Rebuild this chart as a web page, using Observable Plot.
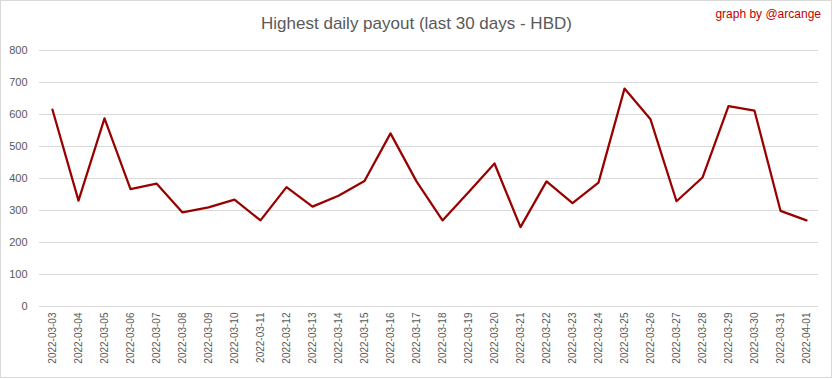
<!DOCTYPE html>
<html><head><meta charset="utf-8">
<script src="https://cdn.jsdelivr.net/npm/d3@7"></script>
<script src="https://cdn.jsdelivr.net/npm/@observablehq/plot@0.6"></script>
<style>
body{margin:0;background:#fff;font-family:"Liberation Sans",Arial,sans-serif;}
#wrap{position:relative;width:833px;height:379px;overflow:hidden;background:#fff;}
#frame{position:absolute;left:0;top:0;width:832px;height:378px;box-sizing:border-box;border:1px solid #d9d9d9;pointer-events:none;}
#title{position:absolute;top:14px;left:0;width:833px;text-align:center;font-size:17px;color:#595959;}
#credit{position:absolute;top:7px;right:12px;font-size:12px;color:#c00000;}
#chart{position:absolute;left:0;top:0;}
</style></head>
<body>
<div id="wrap">
  <div id="chart"></div>
  <div id="title">Highest daily payout (last 30 days - HBD)</div>
  <div id="credit">graph by @arcange</div>
  <div id="frame"></div>
</div>
<script>
const dates = ["2022-03-03","2022-03-04","2022-03-05","2022-03-06","2022-03-07","2022-03-08","2022-03-09","2022-03-10","2022-03-11","2022-03-12","2022-03-13","2022-03-14","2022-03-15","2022-03-16","2022-03-17","2022-03-18","2022-03-19","2022-03-20","2022-03-21","2022-03-22","2022-03-23","2022-03-24","2022-03-25","2022-03-26","2022-03-27","2022-03-28","2022-03-29","2022-03-30","2022-03-31","2022-04-01"];
const payouts = [615,331,588,367,384,294,310,334,269,373,312,346,392,541,391,269,357,447,248,391,323,387,681,585,329,403,626,612,299,269];
const yTicks = [0,100,200,300,400,500,600,700,800];

const data = dates.map((d,i)=>({date:d, value:payouts[i]}));

const chart = Plot.plot({
  width:833, height:379,
  marginLeft:39, marginRight:15, marginTop:50, marginBottom:73,
  style:{fontFamily:'"Liberation Sans",Arial,sans-serif', fontSize:"11px", color:"#595959", background:"transparent"},
  x:{type:"point", domain:dates, padding:0.25, label:null},
  y:{domain:[0,800], label:null},
  marks:[
    Plot.gridY(yTicks,{stroke:"#d9d9d9", strokeOpacity:1}),
    Plot.axisY(yTicks,{tickSize:0, tickPadding:12, fontSize:11, label:null}),
    Plot.axisX({tickSize:0, tickPadding:6, tickRotate:-90, fontSize:10, label:null}),
    Plot.line(data,{x:"date", y:"value", stroke:"#990000", strokeWidth:2.25})
  ]
});
document.getElementById("chart").appendChild(chart);
</script>
</body></html>
